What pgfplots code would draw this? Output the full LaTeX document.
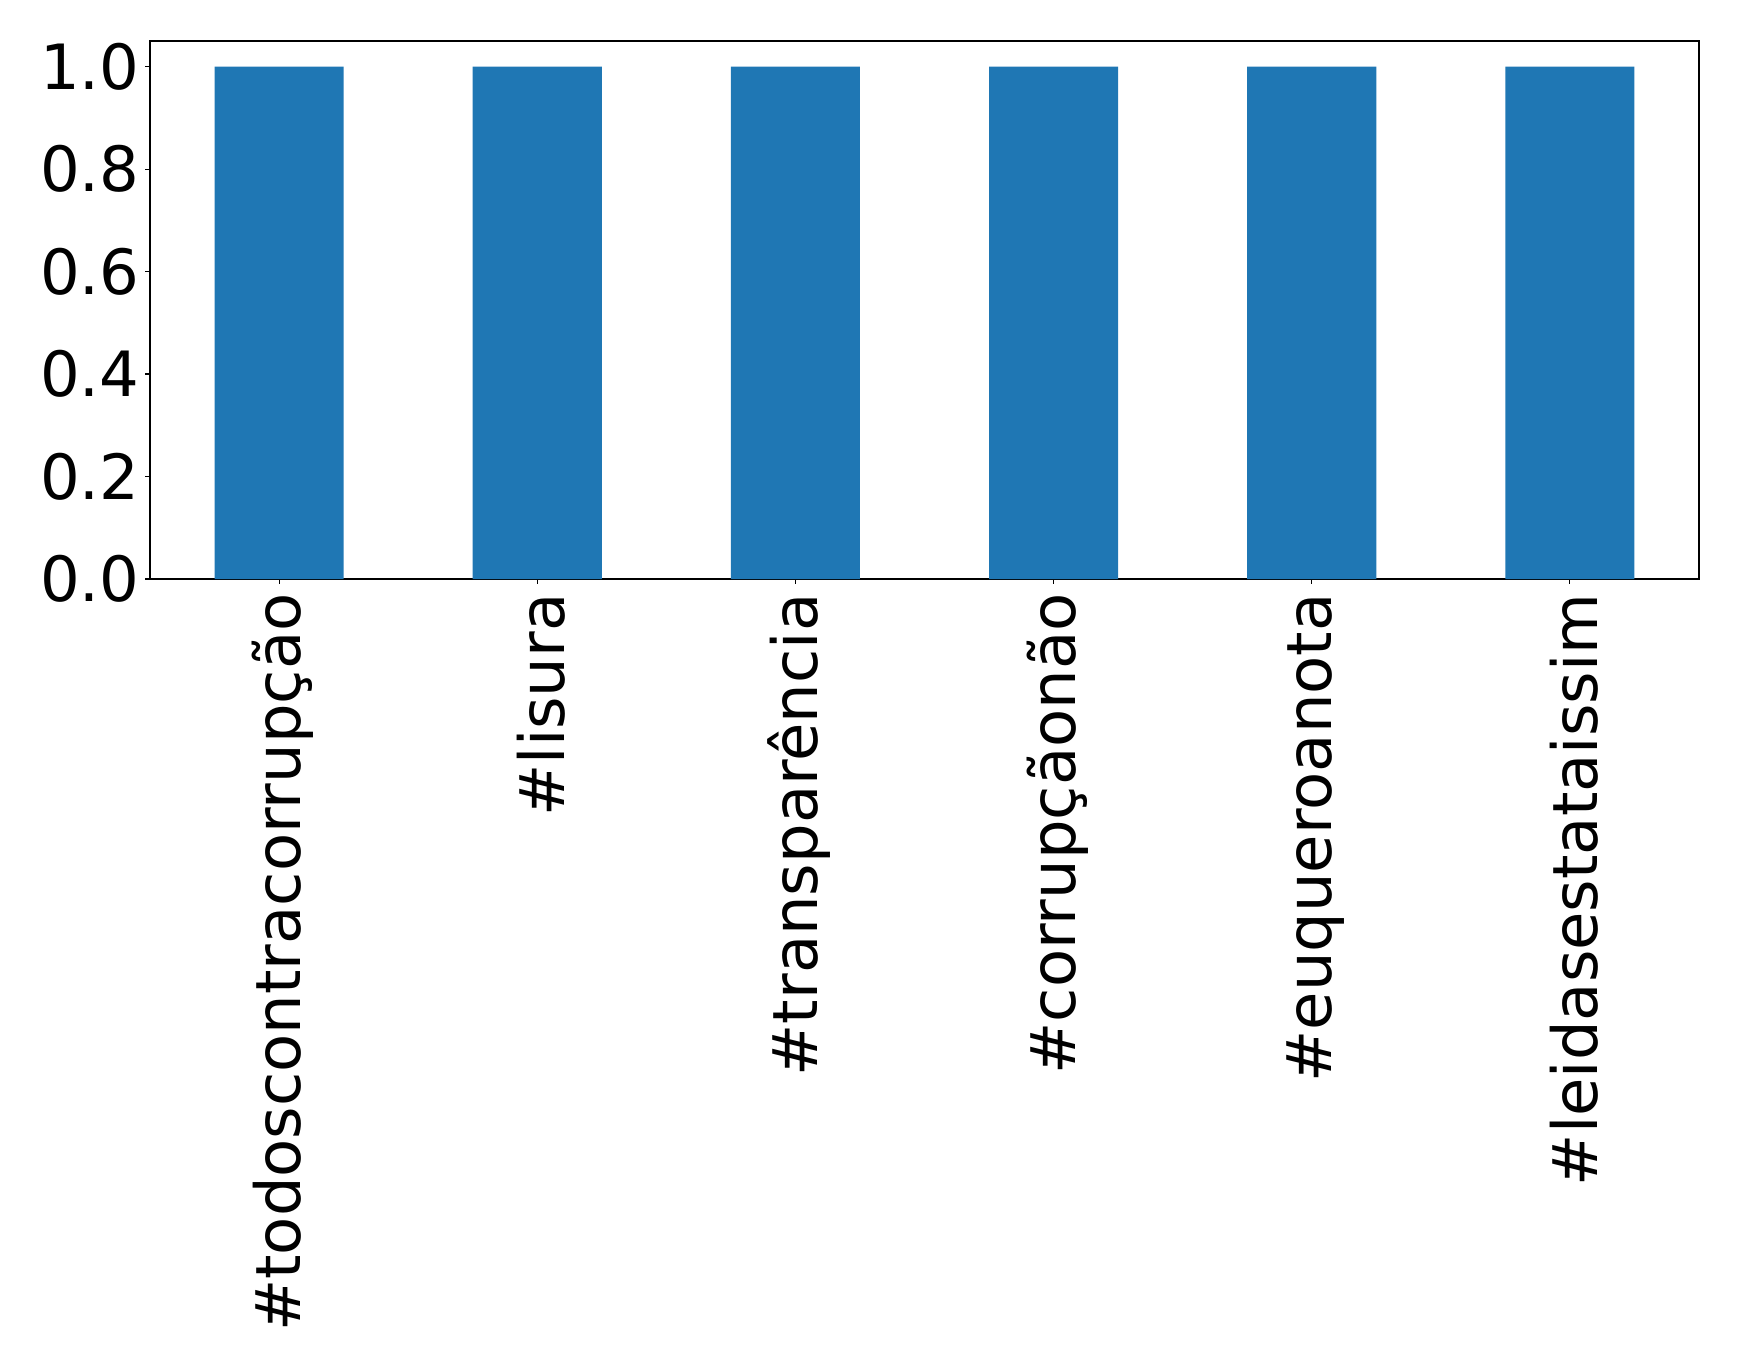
\documentclass[border=0pt]{standalone}
\usepackage{pgfplots}
\pgfplotsset{compat=1.18}
\usepackage{fontspec}
\setmainfont{DejaVu Sans}
\definecolor{mplblue}{HTML}{1F77B4}
\begin{document}
\begin{tikzpicture}
\begin{axis}[
  at={(0,0)}, anchor=south west,
  scale only axis,
  width=774.5pt, height=269pt,
  xmin=-0.5, xmax=5.5, ymin=0, ymax=1.05,
  xtick={0,1,2,3,4,5},
  xticklabels={\#todoscontracorrupção,\#lisura,\#transparência,\#corrupçãonão,\#euqueroanota,\#leidasestataissim},
  ytick={0,0.2,0.4,0.6,0.8,1.0},
  tick align=outside,
  major tick length=2.45pt,
  tick style={line width=0.55pt, black},
  axis line style={line width=0.55pt},
  every axis/.append style={line width=0.55pt},
  xtick pos=bottom, ytick pos=left,
  /pgf/number format/assume math mode=true,
  yticklabel={\pgfmathprintnumber[fixed,fixed zerofill,precision=1]{\tick}},
  ticklabel style={font=\fontsize{31.2}{36}\selectfont},
  yticklabel style={inner sep=0pt, anchor=east, xshift=-2.5pt},
  xticklabel style={rotate=90, anchor=east, inner sep=0pt, xshift=-4.6pt, yshift=-2pt},
  ymajorgrids=false,
]
\addplot[ybar, bar width=0.5, fill=mplblue, draw=none, bar shift=0pt] coordinates {
(0,1) (1,1) (2,1) (3,1) (4,1) (5,1)};
\end{axis}
\useasboundingbox (-75pt,-394.5pt) rectangle (794.5pt,289.5pt);
\end{tikzpicture}
\end{document}
